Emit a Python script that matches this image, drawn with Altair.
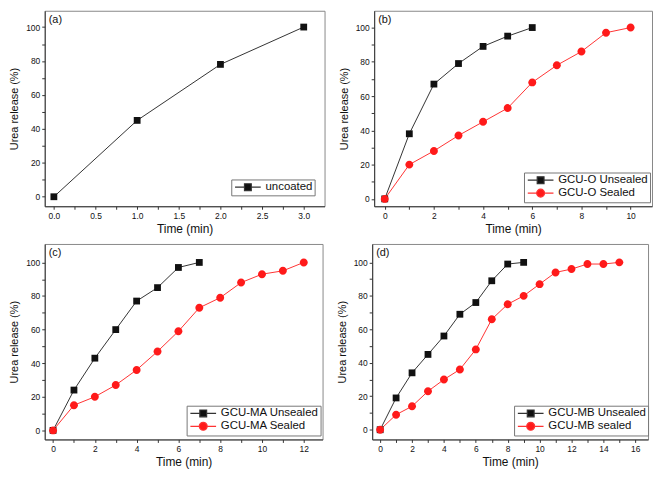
import altair as alt
import pandas as pd

FONT = "Liberation Sans"

# ---- data ----
A_TIME = [0, 1, 2, 3]
A_UNCOATED = [0, 45, 78, 100]

B_TIME_UNSEALED = [0, 1, 2, 3, 4, 5, 6]
B_UNSEALED = [0, 38, 67, 79, 89, 95, 100]
B_TIME_SEALED = [0, 1, 2, 3, 4, 5, 6, 7, 8, 9, 10]
B_SEALED = [0, 20, 28, 37, 45, 53, 68, 78, 86, 97, 100]

C_TIME_UNSEALED = [0, 1, 2, 3, 4, 5, 6, 7]
C_UNSEALED = [0, 24, 43, 60, 77, 85, 97, 100]
C_TIME_SEALED = [0, 1, 2, 3, 4, 5, 6, 7, 8, 9, 10, 11, 12]
C_SEALED = [0, 15, 20, 27, 36, 47, 59, 73, 79, 88, 93, 95, 100]

D_TIME_UNSEALED = [0, 1, 2, 3, 4, 5, 6, 7, 8, 9]
D_UNSEALED = [0, 19, 34, 45, 56, 69, 76, 89, 99, 100]
D_TIME_SEALED = [0, 1, 2, 3, 4, 5, 6, 7, 8, 9, 10, 11, 12, 13, 14, 15]
D_SEALED = [0, 9, 14, 23, 30, 36, 48, 66, 75, 80, 87, 94, 96, 99, 99, 100]

Y_TICKS = [0, 10, 20, 30, 40, 50, 60, 70, 80, 90, 100]
A_X_TICKS = [0, 0.25, 0.5, 0.75, 1, 1.25, 1.5, 1.75, 2, 2.25, 2.5, 2.75, 3]
B_X_TICKS = [0, 1, 2, 3, 4, 5, 6, 7, 8, 9, 10]
C_X_TICKS = [0, 1, 2, 3, 4, 5, 6, 7, 8, 9, 10, 11, 12]
D_X_TICKS = [0, 1, 2, 3, 4, 5, 6, 7, 8, 9, 10, 11, 12, 13, 14, 15, 16]

BLACK = "#111111"
RED = "#ff1a1a"
LINE_BLACK = "#333333"
LINE_RED = "#ff3333"

# plain marker shapes for the plot
SQ_PLAIN = "M-0.9,-0.9H0.9V0.9H-0.9Z"
CI_PLAIN = "M-1.05,0A1.05,1.05 0 1,1 1.05,0A1.05,1.05 0 1,1 -1.05,0Z"
# legend symbols: marker with line stubs
SQ = "M-3.4,0H-0.9M0.9,0H3.4M-0.9,-0.9H0.9V0.9H-0.9Z"
CI = "M-3.4,0H-1.05M1.05,0H3.4M-1.05,0A1.05,1.05 0 1,1 1.05,0A1.05,1.05 0 1,1 -1.05,0Z"

INDEP = dict(color="independent", fill="independent", stroke="independent",
             shape="independent", x="independent", y="independent")
LEG_INDEP = dict(fill="independent", stroke="independent", shape="independent")


def frame(groups):
    rows = []
    for name, ts, vs in groups:
        for t, v in zip(ts, vs):
            rows.append({"time": t, "release": v, "series": name})
    return pd.DataFrame(rows)


def panel(groups, fill_cols, line_cols, plain_shapes, leg_shapes, xdom, xticks,
          xlabel_expr, xfmt, ydom, w, h, label, leg_x, leg_y):
    df = frame(groups)
    order = [g[0] for g in groups]
    x = alt.X("time:Q",
              scale=alt.Scale(domain=xdom, nice=False, zero=False),
              axis=alt.Axis(values=xticks, labelExpr=xlabel_expr, format=xfmt,
                            title="Time (min)", titlePadding=4, titleFontSize=12))
    y = alt.Y("release:Q",
              scale=alt.Scale(domain=ydom, nice=False, zero=False),
              axis=alt.Axis(values=Y_TICKS, labelExpr="datum.value % 20 == 0 ? datum.label : ''",
                            title="Urea release (%)", titlePadding=6, titleFontSize=11))
    leg = alt.Legend(title=None, orient="none", legendX=leg_x, legendY=leg_y,
                     strokeColor="#777777", fillColor="white", padding=2,
                     symbolSize=58, symbolStrokeWidth=1.2, symbolOffset=9,
                     labelOffset=12, labelFontSize=11.5, labelFont=FONT,
                     labelColor="#111111", rowPadding=0, cornerRadius=0)
    layers = []
    # connecting lines, one per series
    for name, lc in zip(order, line_cols):
        layers.append(
            alt.Chart(df).transform_filter(alt.datum.series == name)
            .mark_line(strokeWidth=1, color=lc)
            .encode(x=x, y=y, order=alt.Order("time:Q"))
        )
    # markers, one layer per series
    for name, fc, shp in zip(order, fill_cols, plain_shapes):
        layers.append(
            alt.Chart(df).transform_filter(alt.datum.series == name)
            .mark_point(filled=True, size=58, opacity=1, strokeWidth=0, fill=fc, shape=shp)
            .encode(x=x, y=y)
        )
    # legend-only layer (no rows drawn; entries come from the explicit scale domains)
    layers.append(
        alt.Chart(df).transform_filter("false").mark_point(
            filled=True, size=58, opacity=1, strokeWidth=1.2
        ).encode(
            x=x, y=y,
            fill=alt.Fill("series:N", scale=alt.Scale(domain=order, range=fill_cols), legend=leg),
            stroke=alt.Stroke("series:N", scale=alt.Scale(domain=order, range=line_cols), legend=leg),
            shape=alt.Shape("series:N", scale=alt.Scale(domain=order, range=leg_shapes), legend=leg),
        )
    )
    layers.append(
        alt.Chart(pd.DataFrame({"t": [label]})).mark_text(
            align="left", baseline="top", font=FONT, fontSize=11, color="#111111"
        ).encode(text="t:N", x=alt.value(4), y=alt.value(3))
    )
    return alt.layer(*layers).properties(width=w, height=h)


W1, W2, H = 282, 280, 197

pa = panel([("uncoated", A_TIME, A_UNCOATED)], [BLACK], [LINE_BLACK], [SQ_PLAIN], [SQ],
           [-0.11, 3.25], A_X_TICKS, "datum.value % 0.5 == 0 ? datum.label : ''", ".1f",
           [-5.6, 109.6], W1, H, "(a)", W1 - 10 - 84, H - 10 - 17)
pb = panel([("GCU-O Unsealed", B_TIME_UNSEALED, B_UNSEALED),
            ("GCU-O Sealed", B_TIME_SEALED, B_SEALED)],
           [BLACK, RED], [LINE_BLACK, LINE_RED], [SQ_PLAIN, CI_PLAIN], [SQ, CI],
           [-0.43, 10.87], B_X_TICKS, "datum.value % 2 == 0 ? datum.label : ''", "d",
           [-4.3, 109.8], W2, H, "(b)", W2 - 2 - 127, H - 4 - 30)
pc = panel([("GCU-MA Unsealed", C_TIME_UNSEALED, C_UNSEALED),
            ("GCU-MA Sealed", C_TIME_SEALED, C_SEALED)],
           [BLACK, RED], [LINE_BLACK, LINE_RED], [SQ_PLAIN, CI_PLAIN], [SQ, CI],
           [-0.4, 12.9], C_X_TICKS, "datum.value % 2 == 0 ? datum.label : ''", "d",
           [-5.4, 111], W2, H, "(c)", W2 - 3 - 134, H - 4 - 30)
pd_ = panel([("GCU-MB Unsealed", D_TIME_UNSEALED, D_UNSEALED),
             ("GCU-MB sealed", D_TIME_SEALED, D_SEALED)],
            [BLACK, RED], [LINE_BLACK, LINE_RED], [SQ_PLAIN, CI_PLAIN], [SQ, CI],
            [-0.5, 16.8], D_X_TICKS, "datum.value % 2 == 0 ? datum.label : ''", "d",
            [-5.8, 111], W2 - 2, H, "(d)", W2 - 2 - 2 - 133, H - 4 - 30)

row1 = alt.hconcat(pa, pb, spacing=12).resolve_scale(**INDEP).resolve_legend(**LEG_INDEP)
row2 = alt.hconcat(pc, pd_, spacing=12).resolve_scale(**INDEP).resolve_legend(**LEG_INDEP)

chart = alt.vconcat(row1, row2, spacing=8).resolve_scale(**INDEP).resolve_legend(
    **LEG_INDEP
).properties(
    padding={"left": 0, "top": 0, "right": 0, "bottom": 0}
).configure(
    font=FONT,
    background="white",
).configure_view(
    stroke="#888888", strokeWidth=1,
).configure_axis(
    labelFont=FONT, titleFont=FONT, labelFontSize=8.5,
    titleFontWeight="normal", labelColor="#111111", titleColor="#111111",
    domainColor="#333333", tickColor="#333333", tickSize=3, labelPadding=2,
    grid=False,
)

chart.save("out.html", embed_options={"renderer": "svg", "actions": False})
